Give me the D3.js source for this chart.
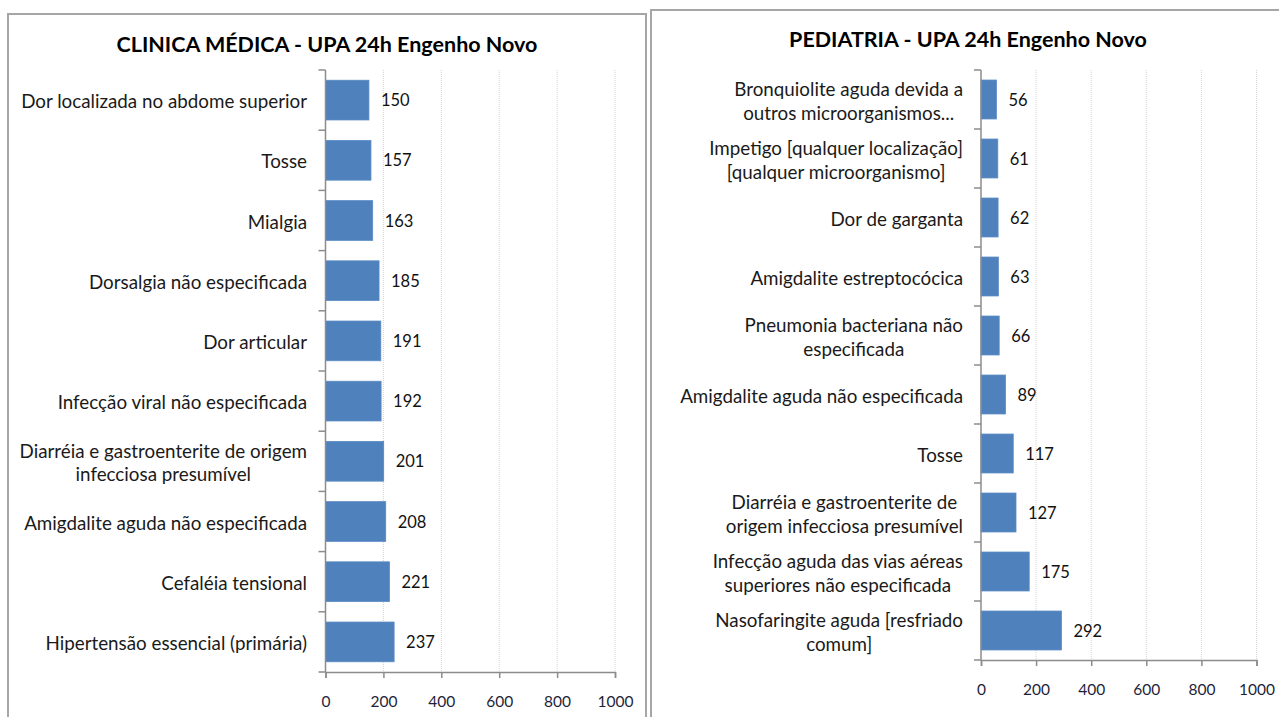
<!DOCTYPE html>
<html><head><meta charset="utf-8">
<script src="https://cdn.jsdelivr.net/npm/d3@7"></script>
<style>
html,body{margin:0;padding:0;background:#fff;}
svg{display:block;}
text{font-family:Lato,"Open Sans",sans-serif;}
</style></head>
<body>
<svg id="c" width="1279" height="717"></svg>
<script>
const leftTitle = "CLINICA MÉDICA - UPA 24h Engenho Novo";
const leftCategories = [
  "Dor localizada no abdome superior",
  "Tosse",
  "Mialgia",
  "Dorsalgia não especificada",
  "Dor articular",
  "Infecção viral não especificada",
  "Diarréia e gastroenterite de origem\ninfecciosa presumível",
  "Amigdalite aguda não especificada",
  "Cefaléia tensional",
  "Hipertensão essencial (primária)"
];
const leftValues = [150, 157, 163, 185, 191, 192, 201, 208, 221, 237];

const rightTitle = "PEDIATRIA - UPA 24h Engenho Novo";
const rightCategories = [
  "Bronquiolite aguda devida a\noutros microorganismos...",
  "Impetigo [qualquer localização]\n[qualquer microorganismo]",
  "Dor de garganta",
  "Amigdalite estreptocócica",
  "Pneumonia bacteriana não\nespecificada",
  "Amigdalite aguda não especificada",
  "Tosse",
  "Diarréia e gastroenterite de\norigem infecciosa presumível",
  "Infecção aguda das vias aéreas\nsuperiores não especificada",
  "Nasofaringite aguda [resfriado\ncomum]"
];
const rightValues = [56, 61, 62, 63, 66, 89, 117, 127, 175, 292];

const xTicks = [0, 200, 400, 600, 800, 1000];

const svg = d3.select("#c");

// panel borders
svg.append("rect").attr("x", 8).attr("y", 14).attr("width", 638).attr("height", 720)
  .attr("fill", "none").attr("stroke", "#a6a6a6").attr("stroke-width", 2);
svg.append("rect").attr("x", 651).attr("y", 10).attr("width", 660).attr("height", 720)
  .attr("fill", "none").attr("stroke", "#a6a6a6").attr("stroke-width", 2);

function drawChart(cfg) {
  const g = svg.append("g");
  const x = d3.scaleLinear().domain([0, 1000]).range([cfg.x0, cfg.x1]);
  const y = d3.scaleBand().domain(cfg.categories).range([cfg.y0, cfg.y1]).paddingInner(0.34).paddingOuter(0.17);
  const step = y.step();

  // title
  g.append("text").attr("x", cfg.titleX).attr("y", cfg.titleY)
    .attr("text-anchor", "middle").attr("dominant-baseline", "central")
    .attr("font-weight", "bold").attr("font-size", 21.5).attr("fill", "#000")
    .text(cfg.title);

  // gridlines
  g.append("g").selectAll("line").data(xTicks.filter(d => d > 0)).join("line")
    .attr("x1", d => x(d)).attr("x2", d => x(d))
    .attr("y1", cfg.y0).attr("y2", cfg.y1)
    .attr("stroke", "#d4d4d4").attr("stroke-width", 1).attr("stroke-dasharray", "1,1");

  // bars
  g.append("g").selectAll("rect").data(cfg.values).join("rect")
    .attr("x", x(0)).attr("y", (d, i) => y(cfg.categories[i]))
    .attr("width", d => x(d) - x(0)).attr("height", y.bandwidth())
    .attr("fill", "#4f81bd").attr("stroke", "#5a8ac4").attr("stroke-width", 0.8);

  // value labels
  g.append("g").selectAll("text").data(cfg.values).join("text")
    .attr("x", d => x(d) + 12)
    .attr("y", (d, i) => y(cfg.categories[i]) + y.bandwidth() / 2)
    .attr("dominant-baseline", "central").attr("font-size", 16.5).attr("fill", "#111")
    .text(d => d);

  // x axis
  const xa = g.append("g").attr("transform", `translate(0,${cfg.y1})`)
    .call(d3.axisBottom(x).tickValues(xTicks).tickSize(6).tickPadding(18).tickFormat(d3.format("d")));
  xa.select(".domain").attr("stroke", "#8c8c8c").attr("stroke-width", 1.5);
  xa.selectAll(".tick line").attr("stroke", "#8c8c8c").attr("stroke-width", 1.5);
  xa.selectAll(".tick text").attr("font-size", 15.5).attr("fill", "#1f1f3a").attr("font-family", "Lato");

  // y axis line with ticks at band boundaries
  g.append("line").attr("x1", x(0)).attr("x2", x(0)).attr("y1", cfg.y0).attr("y2", cfg.y1)
    .attr("stroke", "#8c8c8c").attr("stroke-width", 1.5);
  const bounds = d3.range(cfg.categories.length + 1).map(i => cfg.y0 + i * step);
  g.append("g").selectAll("line").data(bounds).join("line")
    .attr("x1", x(0) - 7).attr("x2", x(0)).attr("y1", d => d).attr("y2", d => d)
    .attr("stroke", "#8c8c8c").attr("stroke-width", 1.5);

  // category labels: block right aligned, lines centered
  const lg = g.append("g");
  cfg.categories.forEach(c => {
    const lines = c.split("\n");
    const cy = y(c) + y.bandwidth() / 2;
    const t = lg.append("text").attr("font-size", 18.8).attr("fill", "#1a1a1a")
      .attr("text-anchor", "middle").attr("dominant-baseline", "central");
    const spans = lines.map((l, i) => t.append("tspan").text(l)
      .attr("y", cy + (i - (lines.length - 1) / 2) * cfg.lineH));
    const maxW = d3.max(spans, s => s.node().getComputedTextLength());
    spans.forEach(s => s.attr("x", cfg.labelRight - maxW / 2));
  });
}

drawChart({
  title: leftTitle, categories: leftCategories, values: leftValues,
  x0: 325.5, x1: 615, y0: 70, y1: 672, titleX: 327, titleY: 44,
  labelRight: 307, lineH: 23
});
drawChart({
  title: rightTitle, categories: rightCategories, values: rightValues,
  x0: 981, x1: 1256.5, y0: 70, y1: 660, titleX: 968, titleY: 39,
  labelRight: 963, lineH: 24
});
</script>
</body></html>
